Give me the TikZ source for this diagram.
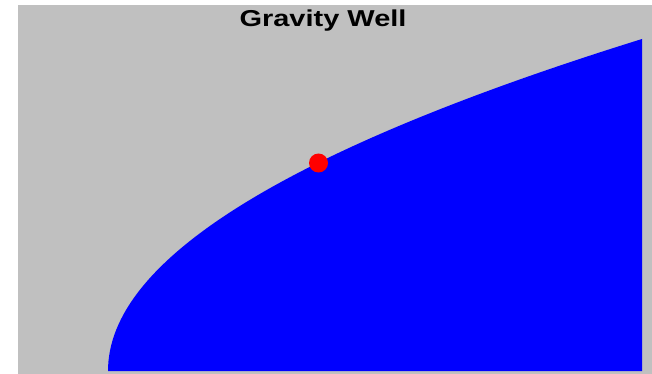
\documentclass[tikz,border=0pt]{standalone}
\usepackage{fontspec}
\setmainfont{Liberation Sans}
\usetikzlibrary{positioning}
\definecolor{wellGrey}{RGB}{192,192,192}
\definecolor{wellBlue}{RGB}{0,0,255}
\definecolor{ballRed}{RGB}{255,0,0}

\begin{document}
\begin{tikzpicture}[
  x=1pt, y=-1pt,
  ball/.style={circle, fill=ballRed, inner sep=0pt, minimum size=19pt},
  heading/.style={font=\fontsize{23}{26}\selectfont\bfseries, xscale=1.26, inner sep=0pt},
]
\useasboundingbox (0,0) rectangle (652,374);

% --- Background ----------------------------------------------------
\fill[wellGrey] (18,5) rectangle (652,374);

% Well profile: height grows with the square root of the distance
\fill[wellBlue] (108,371) .. controls (108,260.3) and (286,149.7) .. (642,39)
  -- (642,371) -- cycle;

% Ball sitting on the slope
\node[ball] (ball) at (318.5,163) {};

% --- Title ---------------------------------------------------------
\node[heading, anchor=base] (title) at (323,27) {Gravity Well};
\end{tikzpicture}
\end{document}
